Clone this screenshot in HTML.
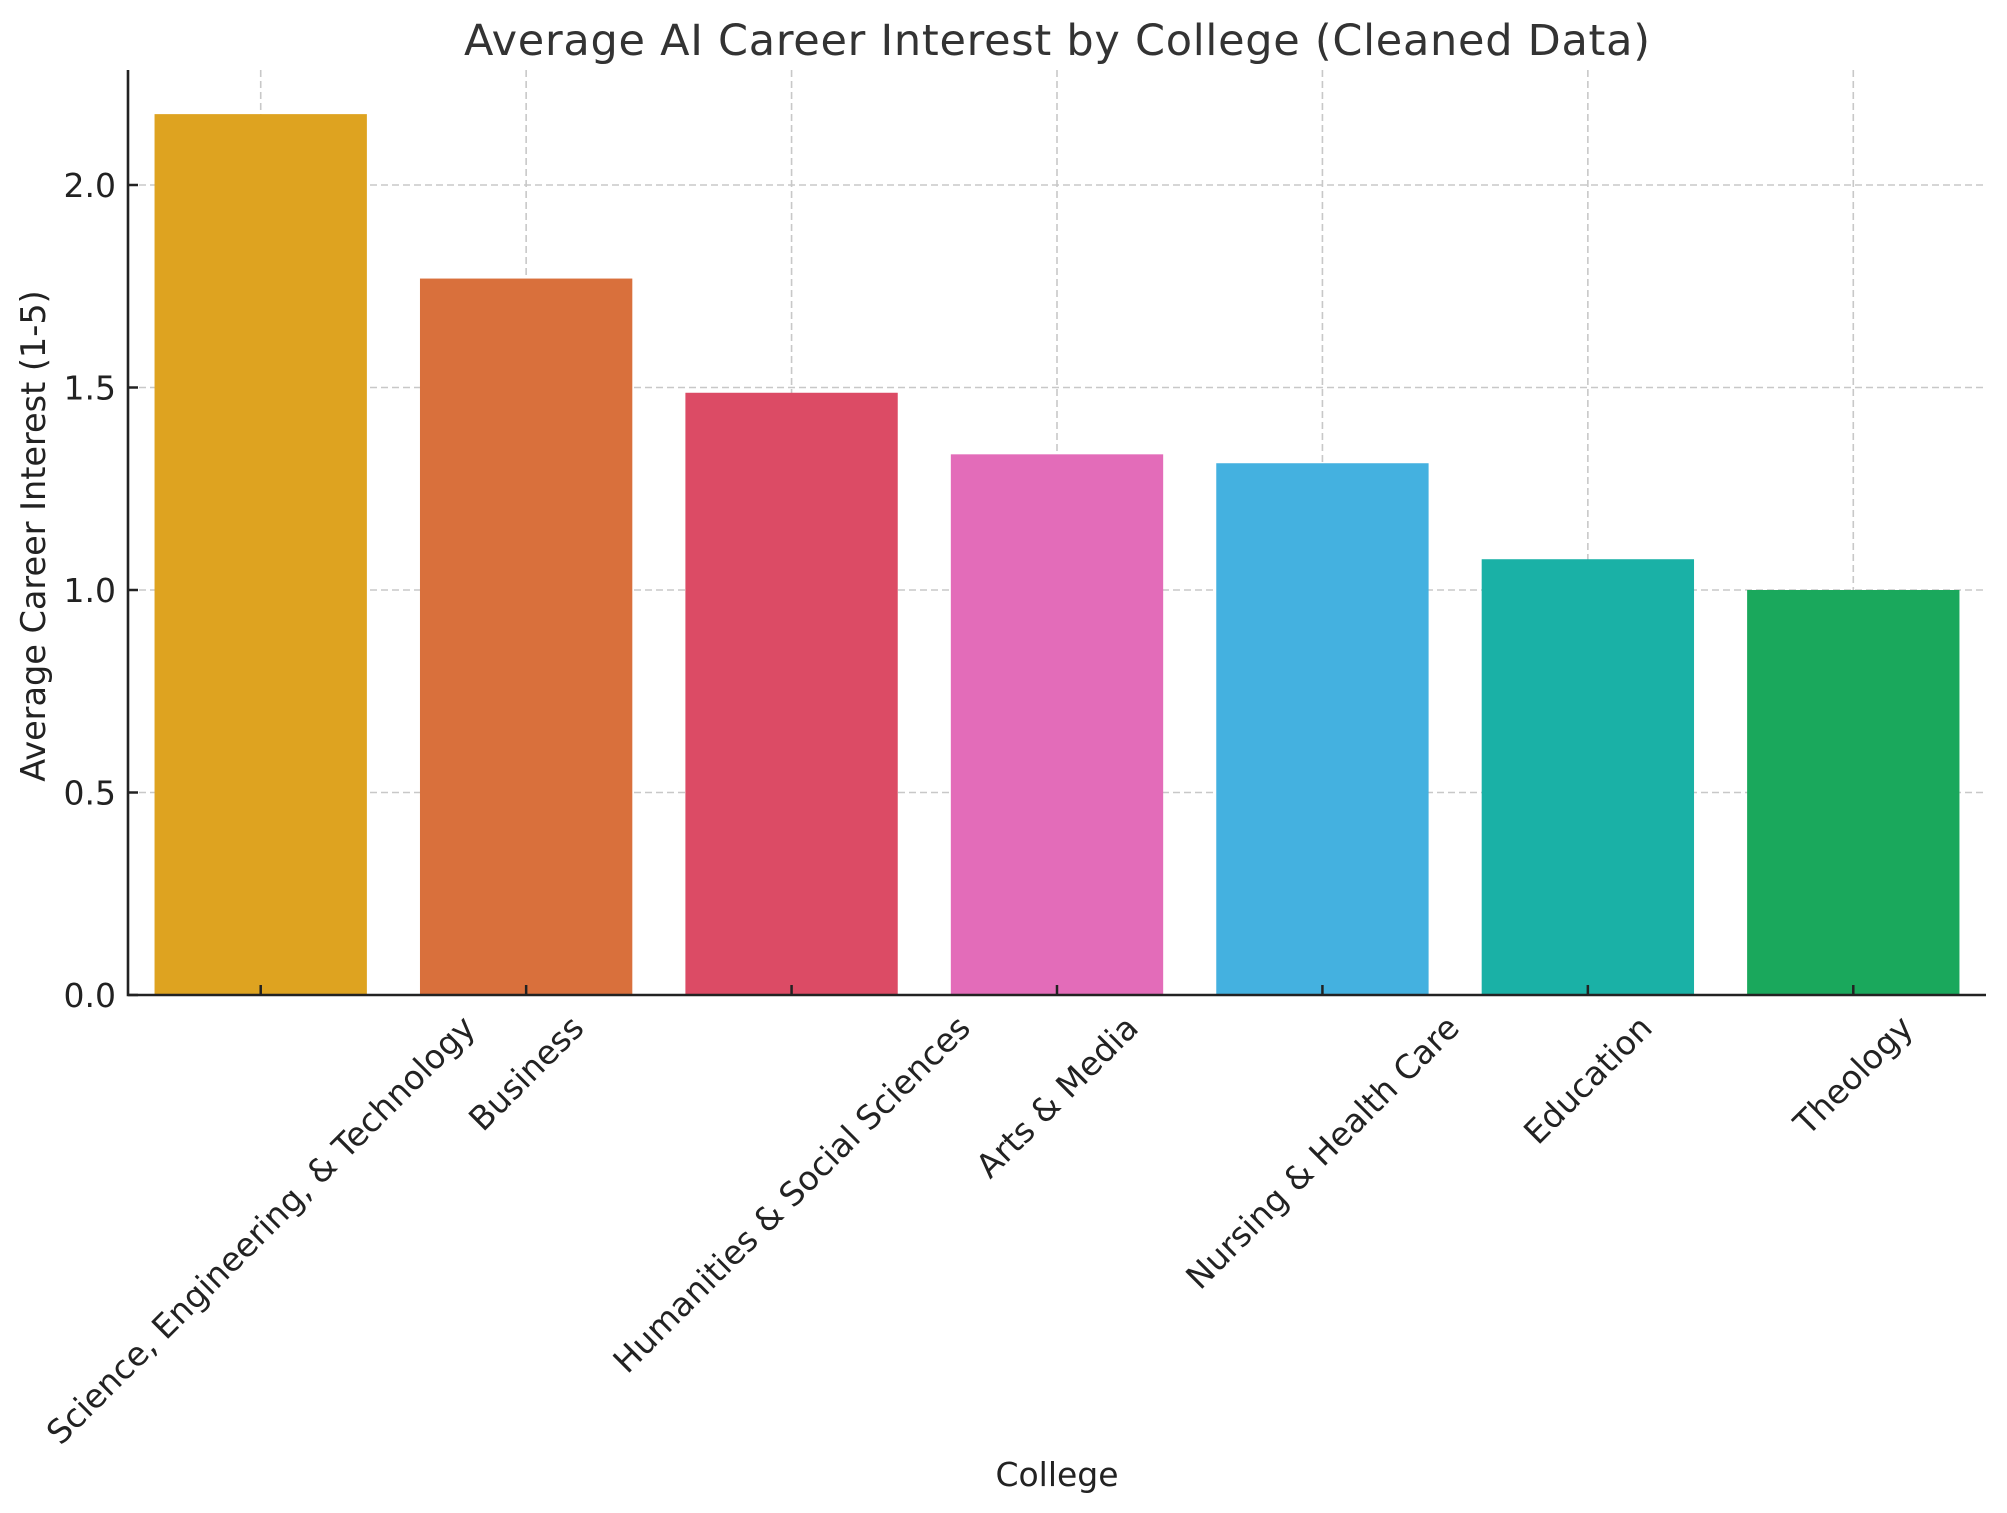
<!DOCTYPE html>
<html><head><meta charset="utf-8"><style>
body{margin:0;background:#fff;}
svg{display:block;font-family:"DejaVu Sans","Liberation Sans",sans-serif;}
</style></head><body>
<svg id="chart" width="2007" height="1513" viewBox="0 0 2007 1513">
<rect width="2007" height="1513" fill="#fff"/>
<text x="1057" y="55" text-anchor="middle" font-size="43" fill="#333" textLength="1186">Average AI Career Interest by College (Cleaned Data)</text>
<text transform="translate(45,536) rotate(-90)" text-anchor="middle" font-size="33.5" fill="#222">Average Career Interest (1-5)</text>
<text x="1057" y="1486" text-anchor="middle" font-size="33" fill="#222">College</text>
<g id="grid"></g><g id="bars"></g><g id="axes"></g><g id="labels"></g>
</svg>
<script>
const categories=["Science, Engineering, & Technology","Business","Humanities & Social Sciences","Arts & Media","Nursing & Health Care","Education","Theology"];
const values=[2.175,1.769,1.487,1.335,1.313,1.076,1.0];
const colors=["#dea320","#d9703c","#dc4b65","#e36cb9","#44b1e0","#1ab1a6","#1aa85c"];
const yTicks=[0,0.5,1,1.5,2];
const yTickLabels=["0.0","0.5","1.0","1.5","2.0"];
const NS="http://www.w3.org/2000/svg";
const L=128,R=1986,T=70,B=995,yMax=(995-70)/405;
const step=(R-L)/categories.length;
const xc=i=>L+step*(i+0.5);
const y=v=>B-(B-T)*v/yMax;
function mk(tag,attrs,parent){const e=document.createElementNS(NS,tag);for(const k in attrs)e.setAttribute(k,attrs[k]);document.getElementById(parent).appendChild(e);return e;}
yTicks.forEach((t,i)=>{
  const g=mk('line',{x1:L,x2:R,y1:y(t),y2:y(t),stroke:'#c8c8c8','stroke-width':1.6,'stroke-dasharray':'7,4'},'grid');
  
  
  const tk=mk('line',{x1:L,x2:L+10,y1:y(t),y2:y(t),stroke:'#222','stroke-width':2.5},'axes');
  
  
  const tl=mk('text',{x:L-12,y:y(t)+12,'text-anchor':'end','font-size':33,fill:'#222'},'labels');
  tl.textContent=yTickLabels[i];
  
  
});
categories.forEach((c,i)=>{
  const g=mk('line',{x1:xc(i),x2:xc(i),y1:T,y2:B,stroke:'#c8c8c8','stroke-width':1.6,'stroke-dasharray':'7,4'},'grid');
  
  
  const bw=step*0.8;
  const b=mk('rect',{x:xc(i)-bw/2,y:y(values[i]),width:bw,height:B-y(values[i]),fill:colors[i]},'bars');
  
  
  const tk=mk('line',{x1:xc(i),x2:xc(i),y1:B,y2:B-10,stroke:'#222','stroke-width':2.5},'axes');
  
  
  const tl=mk('text',{'text-anchor':'middle','dominant-baseline':'central','font-size':33,fill:'#222'},'labels');
  tl.textContent=c;
  
  
  const len=tl.getComputedTextLength();
  const h=(len+33)*0.7071;
  tl.setAttribute('transform','translate('+xc(i)+','+(1010+h/2)+') rotate(-45)');
});
const sp=mk('path',{d:'M'+L+','+T+'V'+B+'H'+R,fill:'none',stroke:'#222','stroke-width':2.6},'axes');


</script>
</body></html>
